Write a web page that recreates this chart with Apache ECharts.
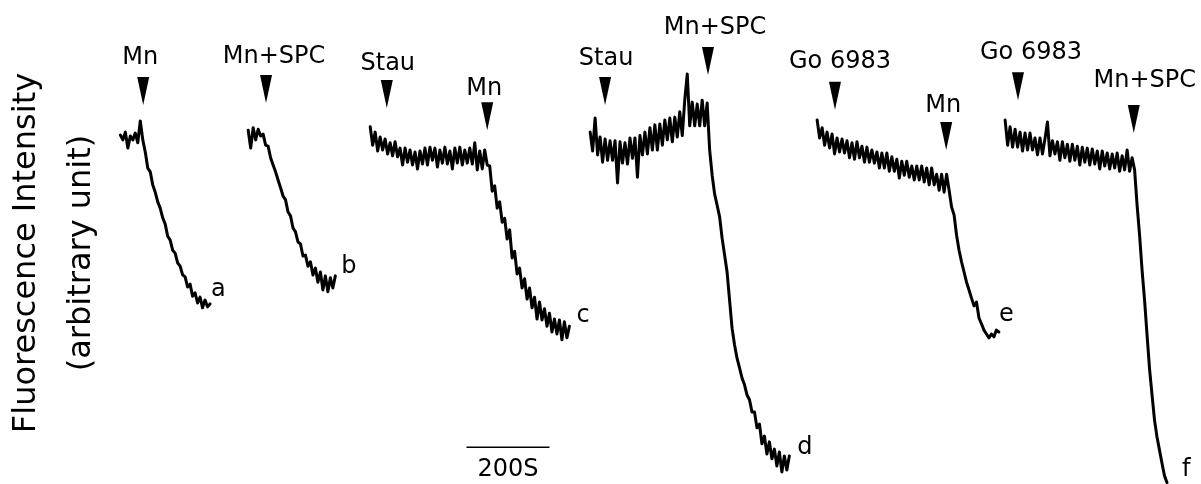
<!DOCTYPE html>
<html><head><meta charset="utf-8">
<script src="https://cdn.jsdelivr.net/npm/echarts@6/dist/echarts.min.js"></script>
<style>html,body{margin:0;padding:0;background:#fff}#c{width:1201px;height:484px}</style>
</head><body><div id="c"></div>
<script>
// ---- data (time in s, fluorescence in arbitrary units) ----
const traceNames = ['a', 'b', 'c', 'd', 'e', 'f'];
const traceStart = [290, 598, 892, 1422, 1969, 2422];
const sampleStep = 6;
const traceA = [72.1, 71.1, 72.7, 69.4, 71.9, 71.1, 72.5, 70.5, 75.0, 71.1, 68.6, 65.3, 64.5, 61.8, 60.3, 58.3, 57.0, 55.0, 53.7, 51.2, 50.4, 48.3, 47.7, 45.7, 45.0, 43.2, 42.8, 40.7, 41.3, 38.8, 39.5, 37.4, 38.6, 36.4, 38.0, 36.6, 37.2];
const traceB = [73.1, 69.4, 73.6, 71.1, 73.3, 71.9, 72.3, 70.0, 69.8, 67.4, 65.9, 64.5, 62.8, 61.2, 59.5, 58.7, 56.2, 55.4, 52.9, 52.1, 50.0, 49.6, 47.1, 47.3, 45.0, 45.9, 43.2, 44.6, 41.7, 43.8, 40.1, 43.0, 39.7, 42.6, 40.5, 43.0];
const traceC = [73.8, 70.0, 72.7, 68.8, 71.7, 69.0, 71.3, 68.2, 70.5, 67.8,
  70.7, 67.6, 69.4, 65.9, 69.4, 66.5, 69.0, 65.9, 68.6, 65.1,
  68.8, 66.1, 69.4, 65.9, 69.6, 66.9, 69.4, 65.5, 69.0, 66.3,
  69.6, 66.1, 68.8, 65.1, 69.4, 66.3, 69.6, 65.9, 69.0, 66.3,
  69.4, 66.1, 70.5, 64.9, 68.8, 65.1, 69.0, 65.9, 65.7, 60.5,
  61.6, 57.0, 58.3, 54.1, 54.9, 50.6, 52.5, 46.7, 48.1, 43.4,
  44.6, 40.5, 42.4, 38.2, 40.5, 36.4, 38.6, 34.1, 37.6, 33.9,
  36.2, 32.6, 35.3, 31.4, 34.1, 31.0, 33.9, 29.8, 33.5, 30.2, 32.6];
const traceD = [72.7, 68.8, 75.6, 68.0, 71.7, 66.5, 71.3, 66.9, 70.9, 66.9, 70.9,
  62.2, 70.7, 66.3, 70.5, 66.1, 71.5, 67.3, 71.5, 63.4, 72.0,
  68.0, 72.7, 68.2, 73.6, 69.0, 74.2, 69.0, 74.4, 70.0, 75.2,
  71.1, 75.6, 70.7, 75.8, 71.7, 76.9, 72.0, 79.3, 84.7, 74.0,
  78.9, 74.0, 78.5, 74.0, 79.3, 74.0, 78.7,
  69.0, 63.8, 59.9, 57.6, 55.2, 50.8, 47.3, 43.8, 38.0, 32.2,
  28.7, 26.0, 24.0, 21.9, 20.5, 18.4, 17.4, 14.9, 14.9, 11.6,
  12.4, 8.3, 9.9, 6.2, 8.7, 5.2, 7.2, 3.7, 6.6, 2.5, 5.8, 2.9, 5.8];
const traceE = [75.2, 71.5, 73.6, 70.0, 72.7, 69.4, 72.3, 68.2, 71.5, 68.6,
  71.3, 68.4, 70.9, 67.4, 70.5, 67.1, 70.7, 67.4, 69.8, 66.5,
  69.6, 66.5, 69.0, 66.3, 68.6, 65.3, 68.4, 65.3, 68.4, 64.6,
  67.6, 64.6, 67.1, 63.2, 66.7, 63.8, 66.7, 63.4, 65.7, 62.8,
  65.7, 62.8, 65.7, 62.4, 65.3, 61.8, 65.3, 61.8, 64.0, 60.7,
  64.0, 60.3, 64.0, 60.7, 57.2, 55.6, 51.4, 48.3, 45.9, 43.8,
  41.7, 40.1, 38.4, 36.8, 37.6, 34.3, 33.1, 31.8, 31.0, 30.2,
  31.0, 30.4, 31.8, 31.4];
const traceF = [75.2, 70.0, 73.8, 69.6, 73.3, 69.6, 72.7, 68.8, 72.5, 69.0,
  72.5, 69.0, 71.5, 68.0, 71.5, 68.2, 71.3, 74.8, 67.8, 70.9,
  68.2, 70.7, 66.9, 70.7, 67.4, 70.2, 66.7, 70.2, 66.9, 69.8,
  65.9, 69.6, 66.5, 69.4, 65.9, 69.2, 66.1, 68.8, 65.1, 68.8,
  65.7, 68.4, 65.1, 68.2, 65.3, 68.4, 64.6, 67.8, 64.9, 69.0,
  64.6, 67.4, 64.9, 57.6, 51.4, 44.2, 38.0, 30.8, 23.8, 18.4,
  13.2, 9.7, 7.0, 4.3, 1.7, 0.3];
const traceValues = [traceA, traceB, traceC, traceD, traceE, traceF];

// additions (arrow tip: time, level)
const arrowTimes = [345, 641, 932, 1174, 1458, 1706, 2012, 2280, 2453, 2732];
const arrowLevels = [78.3, 78.7, 77.7, 73.1, 78.3, 84.5, 77.3, 69.0, 79.3, 72.5];
const arrowLabels = ['Mn', 'Mn+SPC', 'Stau', 'Mn', 'Stau', 'Mn+SPC', 'Go 6983', 'Mn', 'Go 6983', 'Mn+SPC'];

// scale bar
const scaleBarStart = 1124;
const scaleBarLength = 200;
const scaleBarLevel = 7.6;
const scaleBarText = '200S';

const yAxisTitle = 'Fluorescence Intensity\n(arbitrary unit)';

// ---- layout nudges (pixels) ----
const endLabelOffsets = [[1, -14], [6, -9], [7, -10], [8, -8], [0, -17], [15, -13]];
const arrowLabelNudge = [[-3, -1], [8, 0], [1, 2], [-3, 5], [1, 0], [7, -1.5], [5, -2], [-3, 1.5], [13, -1], [11, -6]];

const FONT = 'DejaVu Sans';
const chart = echarts.init(document.getElementById('c'), null, {renderer: 'canvas'});

const series = traceValues.map((vals, k) => ({
  type: 'line',
  name: traceNames[k],
  data: vals.map((v, i) => [traceStart[k] + i * sampleStep, v]),
  showSymbol: false,
  lineStyle: {color: '#000', width: 3, join: 'round', cap: 'round'},
  itemStyle: {color: '#000'},
  clip: true,
  endLabel: {
    show: true, formatter: traceNames[k], distance: 0,
    offset: endLabelOffsets[k], color: '#000', fontFamily: FONT, fontSize: 24
  },
  z: 3
}));

series.push({
  type: 'scatter',
  data: arrowTimes.map((t, i) => ({
    value: [t, arrowLevels[i]],
    label: {offset: arrowLabelNudge[i]}
  })),
  symbol: 'triangle',
  symbolSize: [12, 28],
  symbolRotate: 180,
  symbolOffset: [0, -14],
  itemStyle: {color: '#000', opacity: 1},
  label: {
    show: true, position: 'top', distance: 6,
    formatter: p => arrowLabels[p.dataIndex],
    color: '#000', fontFamily: FONT, fontSize: 24, lineHeight: 24
  },
  emphasis: {disabled: true},
  z: 4
});

series.push({
  type: 'line',
  data: [[scaleBarStart, scaleBarLevel], [scaleBarStart + scaleBarLength, scaleBarLevel]],
  showSymbol: false,
  lineStyle: {color: '#000', width: 1.5},
  z: 3
});
series.push({
  type: 'scatter',
  data: [[scaleBarStart + scaleBarLength / 2, scaleBarLevel]],
  symbolSize: 0,
  itemStyle: {opacity: 1},
  label: {
    show: true, position: 'bottom', distance: 11, formatter: scaleBarText,
    color: '#000', fontFamily: FONT, fontSize: 24, lineHeight: 24
  },
  emphasis: {disabled: true}
});

chart.setOption({
  animation: false,
  backgroundColor: '#fff',
  grid: {left: 110, right: 0, top: 0, bottom: 0, containLabel: false, outerBoundsMode: 'none'},
  xAxis: {type: 'value', min: 265, max: 2894, show: false},
  yAxis: {
    type: 'value', min: 0, max: 100,
    axisLine: {show: false}, axisTick: {show: false}, axisLabel: {show: false}, splitLine: {show: false},
    name: yAxisTitle, nameLocation: 'middle', nameRotate: 90, nameGap: 1,
    nameTextStyle: {color: '#000', fontFamily: FONT, fontSize: 32, lineHeight: 55, padding: [0, 22, 0, 0]}
  },
  series: series
});
</script>
</body></html>
